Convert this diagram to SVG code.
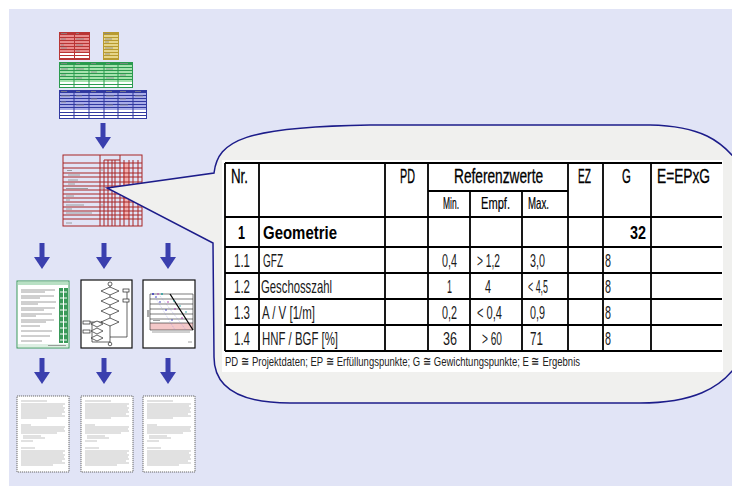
<svg xmlns="http://www.w3.org/2000/svg" xmlns:xlink="http://www.w3.org/1999/xlink" width="732" height="487" viewBox="0 0 732 487">
<style>
.bg{fill:#E1E4F6}
.callout{fill:#F0F0EE;stroke:#1C1C8A;stroke-width:1.5}
.tl{stroke:#000;stroke-width:1.8;fill:none}
.hd{font-family:"Liberation Sans",Arial,sans-serif;font-size:20px;fill:#000;stroke:#000;stroke-width:0.3}
.sh{font-family:"Liberation Sans",Arial,sans-serif;font-size:16px;fill:#000;stroke:#000;stroke-width:0.2}
.bd{font-family:"Liberation Sans",Arial,sans-serif;font-size:19px;fill:#1a1a1a}
.bb{font-family:"Liberation Sans",Arial,sans-serif;font-size:19px;font-weight:bold;fill:#000}
.cap{font-family:"Liberation Sans",Arial,sans-serif;font-size:13.5px;fill:#222}
.arrow{fill:#3A3FAE}
.doc{fill:#fff;stroke:#6a6a6a;stroke-width:1;stroke-dasharray:1.2 0.8}
.dtxt{stroke:#b4b4b4;stroke-width:0.8;fill:none}
.grid{stroke:#A82424;stroke-width:1;fill:none}
.gtxt{stroke:#888;stroke-width:0.8;fill:none}
</style>
<defs>
<pattern id="pR" patternUnits="userSpaceOnUse" x="0" y="35" width="10" height="3"><rect width="10" height="3" fill="#B83535"/><rect width="10" height="2" fill="#E88C8C"/></pattern>
<pattern id="pY" patternUnits="userSpaceOnUse" x="0" y="35" width="10" height="3"><rect width="10" height="3" fill="#B89A30"/><rect width="10" height="2" fill="#E6D58A"/></pattern>
<pattern id="pG" patternUnits="userSpaceOnUse" x="0" y="65" width="10" height="3"><rect width="10" height="3" fill="#2A9A4E"/><rect width="10" height="2" fill="#A6E2AE"/></pattern>
<pattern id="pB" patternUnits="userSpaceOnUse" x="0" y="93" width="10" height="3"><rect width="10" height="3" fill="#3038A0"/><rect width="10" height="2" fill="#A8ACE8"/></pattern>
<g id="arr"><rect x="-2.5" y="0" width="5" height="15" class="arrow"/><polygon points="-8,14 8,14 0,26" class="arrow"/></g>
<g id="docpage">
<rect x="0" y="0" width="52" height="76" class="doc"/>
<path class="dtxt" d="M4,5H30M4,8H48M4,10H46M4,12H48M4,14H47M4,16H48M4,18H45M4,20H48M4,22H30M4,29H14M4,31H48M4,33H47M4,35H48M4,37H40M6,40H24M6,42H28M4,45H16M4,52H18M4,55H48M4,57H46M4,59H48M4,61H47M4,63H48M4,65H45M4,67H48M4,69H36"/>
</g>
</defs>
<rect x="9" y="9" width="723" height="477" class="bg"/>

<g id="thumb-tables">
<g id="tbl-red">
<rect x="59" y="32" width="31" height="28" fill="#B83535"/>
<rect x="60" y="35" width="29" height="18" fill="url(#pR)"/>
<rect x="60" y="53" width="29" height="2" fill="#fff"/><rect x="60" y="56" width="29" height="2" fill="#fff"/>
<rect x="74" y="35" width="1" height="24" fill="#B83535"/>
<path class="gtxt" d="M61,33.5H67M76,33.5H79M61,39H66M76,39H84M61,45H64M76,45H83M61,48H67M76,51H80"/>
</g>
<g id="tbl-yellow">
<rect x="103" y="32" width="16" height="28" fill="#B89A30"/>
<rect x="104" y="35" width="14" height="23" fill="url(#pY)"/>
<path class="gtxt" d="M104,33.5H110M105,39H112M105,42H109M105,48H113M105,54H110"/>
</g>
<g id="tbl-green">
<rect x="59" y="62" width="74" height="26" fill="#2A9A4E"/>
<rect x="60" y="65" width="72" height="17" fill="url(#pG)"/>
<rect x="60" y="82" width="72" height="2" fill="#fff"/><rect x="60" y="85" width="72" height="2" fill="#fff"/>
<path d="M74,65V88M89,65V88M104,65V88M118,65V88" stroke="#2A9A4E" stroke-width="1"/>
<path class="gtxt" d="M61,63.5H67M76,63.5H80M91,63.5H96M106,63.5H110M120,63.5H128M61,69H68M76,69H84M91,72H97M106,69H113M61,75H66M76,78H82M106,78H114M120,75H126"/>
</g>
<g id="tbl-blue">
<rect x="59" y="90" width="88" height="29" fill="#3038A0"/>
<rect x="60" y="93" width="86" height="17" fill="url(#pB)"/>
<rect x="60" y="110" width="86" height="2" fill="#fff"/><rect x="60" y="113" width="86" height="2" fill="#fff"/><rect x="60" y="116" width="86" height="2" fill="#fff"/>
<path d="M74,93V119M89,93V119M104,93V119M118,93V119M133,93V119" stroke="#3038A0" stroke-width="1"/>
<path class="gtxt" d="M61,91.5H67M76,91.5H80M91,91.5H96M106,91.5H112M120,91.5H126M135,91.5H141M61,96H70M76,96H82M91,99H97M106,96H114M120,99H126M135,96H143M61,102H66M76,105H84M106,105H113M120,105H128"/>
</g>
</g>

<g id="thumb-matrix">
<rect x="123" y="163" width="6" height="56" fill="#F2B0B0"/>
<rect x="63" y="155" width="79" height="71" class="grid"/>
<path class="grid" d="M100,155V226M104,160V226M108,160V226M112,160V226M115,160V226M120,155V226M124,160V226M129,160V226M133,160V226M138,160V226M63,163H142M63,168H142M63,173H142M63,177H142M63,182H142M63,186H142M63,190H142M63,194H142M63,198H142M63,202H142M63,207H142M63,211H142M63,215H142M63,219H142M104,160H120"/>
<path class="gtxt" d="M67,170.5H72M68,175H80M68,180H78M68,184H75M66,188.5H88M66,196H74M66,200H70M66,205H84M66,209H72M66,213H92M66,223H72M101,170H103M101,188H103M101,205H103"/>
</g>

<g id="thumb-form">
<rect x="17" y="281" width="52" height="67" fill="#fff" stroke="#3A9A5A" stroke-width="1"/>
<rect x="18" y="282" width="50" height="3" fill="#B8E0C4"/>
<rect x="59" y="288" width="9" height="55" fill="#3A9A5A"/>
<path d="M60,292H67M60,298H67M60,304H67M60,310H67M60,316H67M60,322H67M60,328H67M60,334H67M60,340H67M63.5,288V343" stroke="#fff" stroke-width="1"/>
<path class="gtxt" d="M21,290H55M21,292H45M21,296H54M21,298H40M21,302H56M21,304H38M21,308H55M21,310H44M21,314H52M21,316H36M21,320H54M21,322H46M21,326H40M21,331H52M21,336H50M21,341H42"/>
<rect x="18" y="344" width="50" height="3" fill="#DDEFE3"/>
<path class="gtxt" d="M48,345.5H66"/>
</g>

<g id="thumb-flow">
<rect x="81" y="280" width="51" height="68" fill="#fff" stroke="#111" stroke-width="1.2"/>
<g fill="#fff" stroke="#222" stroke-width="0.7">
<path d="M110,284V345M127,291V337M110,337H127M88,322H110M92,322V342H110"/>
<circle cx="110" cy="284" r="2"/>
<polygon points="110,287 119,291 110,295 101,291"/>
<polygon points="110,297 119,301 110,305 101,301"/>
<polygon points="110,307 119,311 110,315 101,311"/>
<polygon points="110,318 119,322 110,326 101,322"/>
<rect x="123" y="289" width="6" height="3"/>
<rect x="123" y="299" width="6" height="3"/>
<polygon points="97,321 103,324 97,327 91,324"/>
<polygon points="97,328 103,331 97,334 91,331"/>
<polygon points="97,335 103,338 97,341 91,338"/>
<rect x="83" y="321" width="7" height="3"/>
<rect x="83" y="330" width="7" height="3"/>
<circle cx="110" cy="344" r="1.8"/>
</g>
</g>

<g id="thumb-chart">
<rect x="143" y="280" width="52" height="68" fill="#fff" stroke="#111" stroke-width="1.2"/>
<rect x="150" y="323" width="43" height="7" fill="#F4C8C8"/>
<path d="M150,294H193M150,299H193M150,304H193M150,309H193M150,314H193M150,319H193M150,323H193M150,330H193M150,294V330M193,294V330" stroke="#222" stroke-width="0.6" fill="none"/>
<path d="M170,294L193,330" stroke="#000" stroke-width="1.3"/>
<rect x="147" y="310" width="3" height="7" fill="#aaa"/>
<g fill="#3030C0"><circle cx="153" cy="294" r="1"/><circle cx="156" cy="297" r="0.8"/><circle cx="160" cy="302" r="0.8"/><circle cx="166" cy="310" r="0.8"/><circle cx="172" cy="320" r="0.8"/></g>
<g fill="#B030B0"><circle cx="158" cy="294" r="0.8"/><circle cx="168" cy="302" r="0.8"/><circle cx="175" cy="309" r="0.8"/><circle cx="182" cy="318" r="0.8"/></g>
<g fill="#20A0A0"><circle cx="162" cy="294" r="1"/><circle cx="174" cy="301" r="0.8"/><circle cx="180" cy="306" r="0.8"/><circle cx="186" cy="312" r="0.8"/></g>
<path d="M155,297L175,330M160,296L186,330" stroke="#8080E0" stroke-width="0.4" stroke-dasharray="1 1"/>
<path class="gtxt" d="M152,332H190M188,342H192M153,320.5H160"/>
</g>

<g id="doc-1"><use xlink:href="#docpage" transform="translate(17,396)"/></g>
<g id="doc-2"><use xlink:href="#docpage" transform="translate(81,396)"/></g>
<g id="doc-3"><use xlink:href="#docpage" transform="translate(143,396)"/></g>

<g id="connectors">
<use xlink:href="#arr" transform="translate(103,123)"/>
<use xlink:href="#arr" transform="translate(42,243)"/>
<use xlink:href="#arr" transform="translate(104,243)"/>
<use xlink:href="#arr" transform="translate(168,243)"/>
<use xlink:href="#arr" transform="translate(42,358)"/>
<use xlink:href="#arr" transform="translate(104,358)"/>
<use xlink:href="#arr" transform="translate(168,358)"/>
</g>

<g id="callout">
<path class="callout" d="M107,188 L214,173 C218,140 245,127 370,125 L650,125 C700,126 722,140 740,165 L740,360 C722,390 690,403 640,403 L290,403 C240,403 214,388 214,357 L213,243 Z"/>
</g>

<g id="table">
<rect x="222" y="160" width="501" height="212" fill="#fff"/>
<path class="tl" d="M225,163H722M428,191H568M225,217H722M225,247H722M225,273H722M225,299H722M225,325H722M225,351H722"/>
<path class="tl" d="M225,163V351M259,163V351M385,163V351M428,163V351M470,191V351M522,191V351M568,163V351M603,163V351M651,163V351"/>
<text class="hd" transform="translate(231,183) scale(0.68,1)" textLength="25" lengthAdjust="spacingAndGlyphs">Nr.</text>
<text class="hd" transform="translate(400,183) scale(0.68,1)" textLength="22" lengthAdjust="spacingAndGlyphs">PD</text>
<text class="hd" transform="translate(454,183) scale(0.68,1)" textLength="131" lengthAdjust="spacingAndGlyphs">Referenzwerte</text>
<text class="hd" transform="translate(578,183) scale(0.68,1)" textLength="19" lengthAdjust="spacingAndGlyphs">EZ</text>
<text class="hd" transform="translate(622,183) scale(0.68,1)" textLength="13" lengthAdjust="spacingAndGlyphs">G</text>
<text class="hd" transform="translate(657,183) scale(0.68,1)" textLength="78" lengthAdjust="spacingAndGlyphs">E=EPxG</text>
<text class="sh" x="443" y="209" textLength="16" lengthAdjust="spacingAndGlyphs">Min.</text>
<text class="sh" x="481" y="209" textLength="29" lengthAdjust="spacingAndGlyphs">Empf.</text>
<text class="sh" x="528" y="209" textLength="21" lengthAdjust="spacingAndGlyphs">Max.</text>
<text class="bb" x="238" y="239" textLength="7" lengthAdjust="spacingAndGlyphs">1</text>
<text class="bb" x="263" y="239" textLength="74" lengthAdjust="spacingAndGlyphs">Geometrie</text>
<text class="bb" x="630" y="239" textLength="16" lengthAdjust="spacingAndGlyphs">32</text>
<text class="bd" x="234" y="267" textLength="16" lengthAdjust="spacingAndGlyphs">1.1</text>
<text class="bd" x="263" y="267" textLength="20" lengthAdjust="spacingAndGlyphs">GFZ</text>
<text class="bd" x="442" y="267" textLength="15" lengthAdjust="spacingAndGlyphs">0,4</text>
<text class="bd" x="477" y="267" textLength="23" lengthAdjust="spacingAndGlyphs">&gt; 1,2</text>
<text class="bd" x="530" y="267" textLength="15" lengthAdjust="spacingAndGlyphs">3,0</text>
<text class="bd" x="605" y="267" textLength="6" lengthAdjust="spacingAndGlyphs">8</text>
<text class="bd" x="234" y="293" textLength="16" lengthAdjust="spacingAndGlyphs">1.2</text>
<text class="bd" x="261" y="293" textLength="71" lengthAdjust="spacingAndGlyphs">Geschosszahl</text>
<text class="bd" x="447" y="293" textLength="5" lengthAdjust="spacingAndGlyphs">1</text>
<text class="bd" x="485" y="293" textLength="6" lengthAdjust="spacingAndGlyphs">4</text>
<text class="bd" x="528" y="293" textLength="20" lengthAdjust="spacingAndGlyphs">&lt; 4,5</text>
<text class="bd" x="605" y="293" textLength="6" lengthAdjust="spacingAndGlyphs">8</text>
<text class="bd" x="234" y="319" textLength="16" lengthAdjust="spacingAndGlyphs">1.3</text>
<text class="bd" x="262" y="319" textLength="53" lengthAdjust="spacingAndGlyphs">A / V [1/m]</text>
<text class="bd" x="442" y="319" textLength="15" lengthAdjust="spacingAndGlyphs">0,2</text>
<text class="bd" x="477" y="319" textLength="25" lengthAdjust="spacingAndGlyphs">&lt; 0,4</text>
<text class="bd" x="530" y="319" textLength="15" lengthAdjust="spacingAndGlyphs">0,9</text>
<text class="bd" x="605" y="319" textLength="6" lengthAdjust="spacingAndGlyphs">8</text>
<text class="bd" x="234" y="345" textLength="16" lengthAdjust="spacingAndGlyphs">1.4</text>
<text class="bd" x="262" y="345" textLength="76" lengthAdjust="spacingAndGlyphs">HNF / BGF [%]</text>
<text class="bd" x="443" y="345" textLength="14" lengthAdjust="spacingAndGlyphs">36</text>
<text class="bd" x="482" y="345" textLength="20" lengthAdjust="spacingAndGlyphs">&gt; 60</text>
<text class="bd" x="530" y="345" textLength="13" lengthAdjust="spacingAndGlyphs">71</text>
<text class="bd" x="605" y="345" textLength="6" lengthAdjust="spacingAndGlyphs">8</text>
<text class="cap" x="225" y="366" textLength="355" lengthAdjust="spacingAndGlyphs">PD ≅ Projektdaten; EP ≅ Erfüllungspunkte; G ≅ Gewichtungspunkte; E ≅ Ergebnis</text>
</g>
</svg>
